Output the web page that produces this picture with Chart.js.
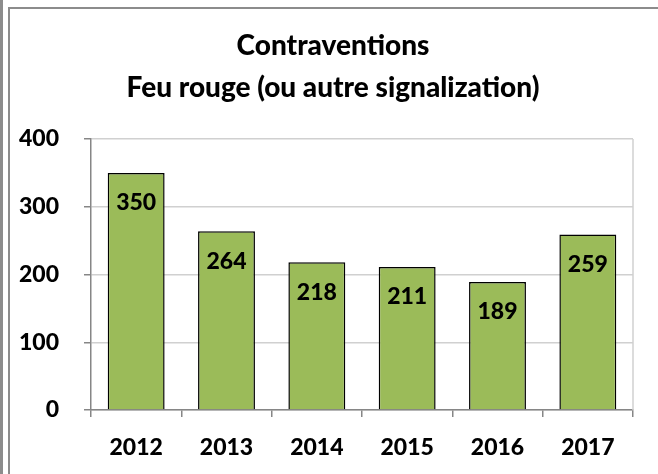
<!DOCTYPE html>
<html>
<head>
<meta charset="utf-8">
<script src="https://cdn.jsdelivr.net/npm/chart.js@4.4.0/dist/chart.umd.min.js"></script>
<style>
  html, body { margin: 0; padding: 0; background: #fff; }
  #wrap { position: relative; width: 658px; height: 474px; }
  #chart { position: absolute; left: 0; top: 0; }
  .edge { position: absolute; background: #8c8c8c; }
</style>
</head>
<body>
<div id="wrap">
  <canvas id="chart" width="658" height="474"></canvas>
  <div class="edge" style="left:0;top:0;width:3px;height:474px;"></div>
  <div class="edge" style="left:8px;top:7px;width:2px;height:467px;"></div>
  <div class="edge" style="left:8px;top:7px;width:650px;height:2px;"></div>
</div>
<script>
const annees = ["2012", "2013", "2014", "2015", "2016", "2017"];
const contraventions = [350, 264, 218, 211, 189, 259];
const titre = ["Contraventions", "Feu rouge (ou autre signalization)"];

const police = "Lato, 'Open Sans', sans-serif";

// valeurs dans les barres
const etiquettes = {
  id: "etiquettes",
  afterDatasetsDraw(chart) {
    const ctx = chart.ctx;
    const meta = chart.getDatasetMeta(0);
    ctx.save();
    ctx.font = "900 23px " + police;
    ctx.fillStyle = "#000";
    ctx.textAlign = "center";
    ctx.textBaseline = "middle";
    meta.data.forEach((bar, i) => {
      ctx.fillText(contraventions[i], bar.x, bar.y + 30);
    });
    ctx.restore();
  }
};

// bordure droite de la zone de tracé
const cadre = {
  id: "cadre",
  beforeDatasetsDraw(chart) {
    const a = chart.chartArea;
    const ctx = chart.ctx;
    ctx.save();
    ctx.strokeStyle = "#d0d0d0";
    ctx.lineWidth = 1.5;
    ctx.beginPath();
    ctx.moveTo(a.right, a.top);
    ctx.lineTo(a.right, a.bottom);
    ctx.stroke();
    ctx.restore();
  }
};

new Chart(document.getElementById("chart"), {
  type: "bar",
  data: {
    labels: annees,
    datasets: [{
      data: contraventions,
      backgroundColor: "#9BBB59",
      borderColor: "#000",
      borderWidth: 1.5,
      categoryPercentage: 1,
      barPercentage: 0.63
    }]
  },
  options: {
    responsive: false,
    animation: false,
    layout: { padding: { left: 8, right: 0, top: 0, bottom: 10 } },
    plugins: {
      legend: { display: false },
      tooltip: { enabled: false },
      title: {
        display: true,
        text: titre,
        color: "#000",
        font: { family: police, size: 28, weight: 900, lineHeight: 1.5 },
        padding: { top: 25, bottom: 30 }
      }
    },
    scales: {
      y: {
        min: 0,
        max: 400,
        ticks: { stepSize: 100, color: "#000", padding: 25, font: { family: police, size: 23, weight: 900 } },
        grid: { color: "#d0d0d0", lineWidth: 1.5, tickLength: 7, tickColor: "#868686" },
        border: { color: "#868686", width: 1.5 },
        afterFit(scale) { scale.width = 83; }
      },
      droite: {
        type: "linear",
        position: "right",
        ticks: { display: false },
        grid: { display: false },
        border: { display: false },
        afterFit(scale) { scale.width = 25; }
      },
      x: {
        ticks: { color: "#000", padding: 17, font: { family: police, size: 23, weight: 900 } },
        grid: { offset: true, drawOnChartArea: false, tickLength: 7, color: "#868686", lineWidth: 1.5 },
        border: { color: "#868686", width: 1.5 },
        afterFit(scale) { scale.height = 54; }
      }
    }
  },
  plugins: [etiquettes, cadre]
});
</script>
</body>
</html>
